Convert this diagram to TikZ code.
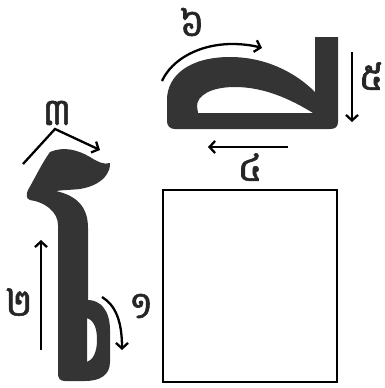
\documentclass[tikz,border=0pt]{standalone}
\usepackage{fontspec}
\newfontfamily\khmerfont[Script=Khmer,FakeBold=1.5]{Battambang}
\usetikzlibrary{arrows.meta}
\definecolor{glyphgray}{RGB}{52,52,52}
\begin{document}
\begin{tikzpicture}[x=1pt,y=-1pt,
  glyph/.style={fill=glyphgray, even odd rule},
  stroke/.style={line width=2.3pt, -{Straight Barb[length=5.5pt,width=12pt,line width=2.3pt]}},
  lbl/.style={font=\khmerfont\fontsize{38}{42}\selectfont, inner sep=0pt, text=black!85},
  box/.style={draw=black, line width=2pt}]
\useasboundingbox (0,0) rectangle (385,388);
% left glyph
\fill[glyph] (50,152) .. controls (64,146) and (78,150) .. (90,157)
  .. controls (98,162) and (104,165) .. (110,163)
  .. controls (110,168) and (109,171) .. (107,174)
  .. controls (102,182) and (92,187) .. (80,189)
  .. controls (70,190) and (62,190) .. (56,191)
  .. controls (78,196) and (88,208) .. (88,228) -- (88,300)
  .. controls (100,300) and (110,310) .. (110,330) -- (110,362)
  .. controls (110,375) and (100,381) .. (85,381) -- (65,381)
  .. controls (60,381) and (58,378) .. (58,374) -- (58,225)
  .. controls (58,212) and (45,202) .. (30,200)
  .. controls (26,199) and (26,194) .. (28,190)
  .. controls (35,178) and (42,163) .. (50,152) -- cycle
  (87,318) .. controls (95,321) and (97,330) .. (97,340)
  .. controls (97,352) and (93,360) .. (87,362) -- cycle;
% top glyph
\fill[glyph] (315,37) -- (338,37) -- (338,122)
  .. controls (338,127) and (335,129) .. (330,129) -- (175,129)
  .. controls (170,129) and (167,126) .. (167,121) -- (167,100)
  .. controls (167,75) and (190,57) .. (230,57)
  .. controls (265,57) and (295,72) .. (315,92) -- cycle
  (198,113) -- (313,113)
  .. controls (292,100) and (265,87) .. (235,87)
  .. controls (210,87) and (197,96) .. (197,106) -- cycle;
% square
\draw[box] (163,190) rectangle (337,382);
% arrows
\coordinate (a1s) at (102,297); \coordinate (a1e) at (122,350);
\coordinate (a2s) at (41,350); \coordinate (a2e) at (41,240);
\coordinate (a3s) at (23,164); \coordinate (a3m) at (55,129); \coordinate (a3e) at (100,150);
\coordinate (a4s) at (162,81); \coordinate (a4e) at (262,48);
\coordinate (a5s) at (352,52); \coordinate (a5e) at (352,122);
\coordinate (a6s) at (288,147); \coordinate (a6e) at (208,147);
\draw[stroke] (a1s) .. controls (115,305) and (122,320) .. (a1e);
\draw[stroke] (a2s) -- (a2e);
\draw[stroke] (a3s) -- (a3m) -- (a3e);
\draw[stroke] (a4s) .. controls (172,59) and (200,44) .. (232,44) .. controls (245,44) and (255,46) .. (a4e);
\draw[stroke] (a5s) -- (a5e);
\draw[stroke] (a6s) -- (a6e);
% labels
\node[lbl] (l1) at (141,306) {១};
\node[lbl] (l2) at (19,302) {២};
\node[lbl] (l3) at (57,113) {៣};
\node[lbl] (l6) at (192,22) {៦};
\node[lbl] (l5) at (371,76) {៥};
\node[lbl] (l4) at (250,167) {៤};
\end{tikzpicture}
\end{document}
